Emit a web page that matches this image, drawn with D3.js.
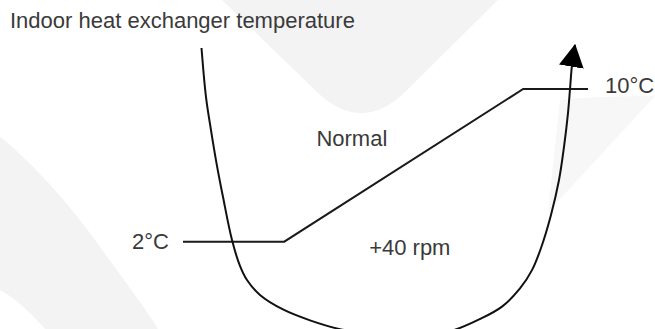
<!DOCTYPE html>
<html>
<head>
<meta charset="utf-8">
<script src="https://cdn.jsdelivr.net/npm/d3@7/dist/d3.min.js"></script>
<style>
  html, body { margin: 0; padding: 0; background: #fff; }
  svg { display: block; }
  text { font-family: "Liberation Sans", Arial, Helvetica, sans-serif; fill: #3a3a3a; }
</style>
</head>
<body>
<div id="chart"></div>
<script>
// ---- data ----
const title = "Indoor heat exchanger temperature";
// threshold line: x in relative time units (0-100), temperature in °C
const thresholdX = [0, 25, 84, 100];
const thresholdT = [2, 2, 10, 10];
const thresholdLabels = ["2°C", "10°C"];
// temperature trajectory (U-shaped curve)
const curveX = [4.57, 5.68, 6.91, 8.27, 9.88, 12.10, 14.07, 15.80, 19.01, 24.69, 31.36, 38.77, 49.38, 58.52, 66.42, 73.33, 78.77, 83.21, 86.17, 88.40, 90.86, 92.84, 94.07, 95.06, 95.56, 96.05];
const curveT = [12.15, 9.58, 7.85, 6.12, 4.34, 2.09, 0.73, -0.01, -0.79, -1.55, -2.12, -2.58, -2.88, -2.92, -2.66, -2.05, -1.40, -0.45, 0.51, 1.67, 3.40, 5.23, 6.96, 8.74, 10.00, 11.26];
const arrowTip = { x: 96.79, t: 12.31 };
const regionLabels = [
  { text: "Normal", x: 41.7, t: 7.0 },
  { text: "+40 rpm", x: 56.0, t: 1.3 }
];

// ---- layout ----
const W = 655, H = 329;
const svg = d3.select("#chart").append("svg").attr("width", W).attr("height", H);

// background watermark shapes
const bg = svg.append("g").attr("fill", "#f3f3f3");
bg.append("path").attr("d", "M222,0 L318,93 Q360,132 402,95 L498,0 Z");
bg.append("path").attr("d", "M0,137 C30,160 70,205 95,240 C120,275 140,300 158,329 L45,329 C30,312 15,298 0,290 Z");
bg.append("path").attr("fill", "#f7f7f7").attr("d", "M655,96 L548,212 L560,100 Q600,96 655,96 Z");

const x = d3.scaleLinear().domain([0, 100]).range([183, 588]);
const y = d3.scaleLinear().domain([2, 10]).range([241.7, 89]);

// title
svg.append("text").attr("x", 10).attr("y", 28)
  .style("font-size", "22px").text(title);

// threshold polyline
const thr = thresholdX.map((d, i) => [d, thresholdT[i]]);
svg.append("path")
  .attr("d", d3.line().x(d => x(d[0])).y(d => y(d[1]))(thr))
  .attr("fill", "none").attr("stroke", "#1a1a1a").attr("stroke-width", 2);

// threshold labels
svg.append("text").attr("x", x(thresholdX[0]) - 14).attr("y", y(thresholdT[0]) + 7)
  .attr("text-anchor", "end").style("font-size", "22px").text(thresholdLabels[0]);
svg.append("text").attr("x", x(thresholdX[3]) + 17).attr("y", y(thresholdT[3]) + 4)
  .attr("text-anchor", "start").style("font-size", "22px").text(thresholdLabels[1]);

// arrow marker
const defs = svg.append("defs");
defs.append("marker").attr("id", "arr")
  .attr("markerUnits", "userSpaceOnUse")
  .attr("viewBox", "0 -13 24 26")
  .attr("refX", 22).attr("refY", 0)
  .attr("markerWidth", 24).attr("markerHeight", 26)
  .attr("orient", "auto")
  .append("path").attr("d", "M0,-12.5 L23,0 L0,12.5 Z").attr("fill", "#000");

// U curve
const pts = curveX.map((d, i) => [d, curveT[i]]);
pts.push([arrowTip.x, arrowTip.t]);
svg.append("path")
  .attr("d", d3.line().x(d => x(d[0])).y(d => y(d[1])).curve(d3.curveCatmullRom)(pts))
  .attr("fill", "none").attr("stroke", "#111").attr("stroke-width", 2)
  .attr("marker-end", "url(#arr)");

// region labels
svg.selectAll("text.region").data(regionLabels).enter().append("text")
  .attr("class", "region")
  .attr("x", d => x(d.x)).attr("y", d => y(d.t))
  .attr("text-anchor", "middle").style("font-size", "22px")
  .text(d => d.text);
</script>
</body>
</html>
